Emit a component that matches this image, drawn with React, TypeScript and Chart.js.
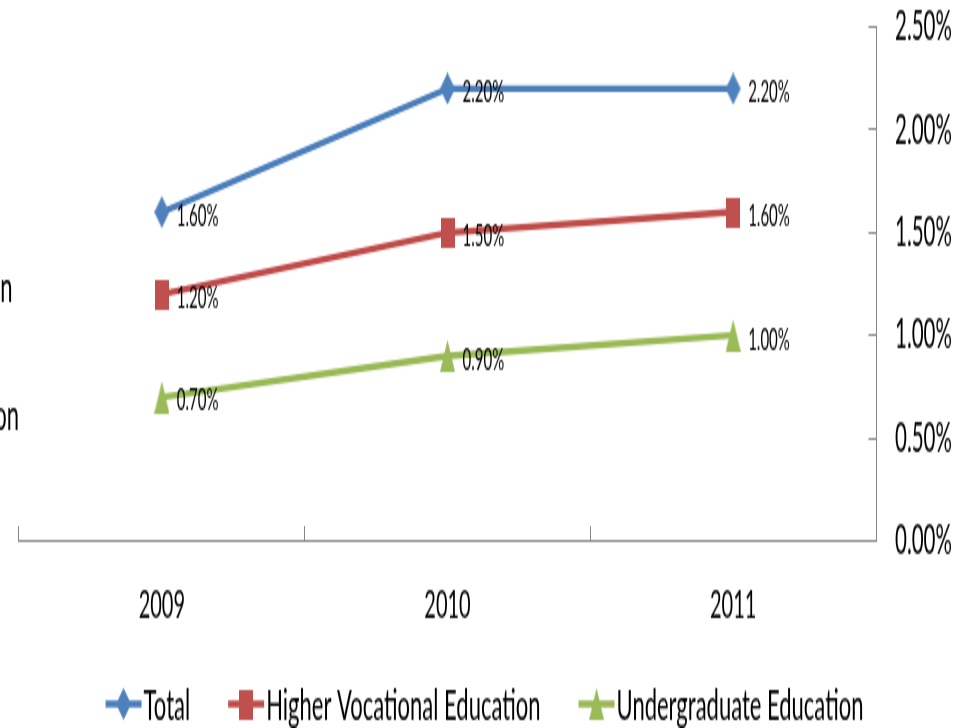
import React, { useEffect, useRef } from 'react';
import { Chart, registerables } from 'chart.js';

Chart.register(...registerables);

// ---- data ----
const categories = ['2009', '2010', '2011'];
const totalValues = [0.016, 0.022, 0.022];
const higherVocationalValues = [0.012, 0.015, 0.016];
const undergraduateValues = [0.007, 0.009, 0.01];
const yTickValues = [0, 0.005, 0.01, 0.015, 0.02, 0.025];
const seriesNames = ['Total', 'Higher Vocational Education', 'Undergraduate Education'];
const clippedLeftLabels = ['Higher Vocational Education', 'Undergraduate Education'];

// ---- canvas geometry (drawn at half height, stretched 2x vertically by CSS) ----
const W = 959;
const H = 364;
const FONT = 'Lato, "Open Sans", sans-serif';

const pct = (v: number) => (v * 100).toFixed(2) + '%';

function makeMarker(shape: string, color: string, w: number, h: number) {
  const c = document.createElement('canvas');
  c.width = w;
  c.height = h;
  const g = c.getContext('2d') as CanvasRenderingContext2D;
  g.fillStyle = color;
  g.beginPath();
  if (shape === 'diamond') {
    g.moveTo(w / 2, 0);
    g.lineTo(w, h / 2);
    g.lineTo(w / 2, h);
    g.lineTo(0, h / 2);
  } else if (shape === 'square') {
    g.rect(0, 0, w, h);
  } else {
    g.moveTo(w / 2, 0);
    g.lineTo(w, h);
    g.lineTo(0, h);
  }
  g.closePath();
  g.fill();
  return c;
}

const dataLabelPlugin = {
  id: 'dataLabels',
  afterDatasetsDraw(chart: any) {
    const ctx = chart.ctx as CanvasRenderingContext2D;
    ctx.save();
    ctx.font = `15px ${FONT}`;
    ctx.fillStyle = '#000';
    ctx.textAlign = 'left';
    ctx.textBaseline = 'middle';
    chart.data.datasets.forEach((ds: any, i: number) => {
      const meta = chart.getDatasetMeta(i);
      meta.data.forEach((pt: any, j: number) => {
        ctx.fillText(pct(ds.data[j]), pt.x + 15, pt.y + 2);
      });
    });
    ctx.restore();
  },
};

const sideTextPlugin = {
  id: 'sideText',
  afterDraw(chart: any) {
    const ctx = chart.ctx as CanvasRenderingContext2D;
    ctx.save();
    ctx.font = `22px ${FONT}`;
    ctx.fillStyle = '#000';
    ctx.textAlign = 'right';
    ctx.textBaseline = 'alphabetic';
    ctx.fillText(clippedLeftLabels[0], 12.5, 151);
    ctx.fillText(clippedLeftLabels[1], 19, 215);
    ctx.restore();
  },
};

const legendPlugin = {
  id: 'customLegend',
  afterDraw(chart: any) {
    const ctx = chart.ctx as CanvasRenderingContext2D;
    ctx.save();
    ctx.font = `22px ${FONT}`;
    const lineLen = 36;
    const gapText = 2;
    const gapItem = 38;
    const items = chart.data.datasets.map((ds: any) => ({ ds, w: ctx.measureText(ds.label).width }));
    const total =
      items.reduce((s: number, it: any) => s + lineLen + gapText + it.w, 0) + gapItem * (items.length - 1);
    let x = 484.5 - total / 2;
    const y = 352;
    items.forEach((it: any) => {
      ctx.strokeStyle = it.ds.borderColor;
      ctx.lineWidth = 3.3;
      ctx.beginPath();
      ctx.moveTo(x, y);
      ctx.lineTo(x + lineLen, y);
      ctx.stroke();
      const img = it.ds.pointStyle as HTMLCanvasElement;
      ctx.drawImage(img, x + lineLen / 2 - img.width / 2, y - img.height / 2);
      ctx.fillStyle = '#000';
      ctx.textAlign = 'left';
      ctx.textBaseline = 'alphabetic';
      ctx.fillText(it.ds.label, x + lineLen + gapText, 360);
      x += lineLen + gapText + it.w + gapItem;
    });
    ctx.restore();
  },
};

export default function App() {
  const ref = useRef<HTMLCanvasElement | null>(null);

  useEffect(() => {
    if (!ref.current) return;
    const blueMarker = makeMarker('diamond', '#4F81BD', 15, 16);
    const redMarker = makeMarker('square', '#C0504D', 14, 15);
    const greenMarker = makeMarker('triangle', '#9BBB59', 15, 16);

    const axisColor = '#868686';

    const chart = new Chart(ref.current, {
      type: 'line',
      data: {
        labels: categories,
        datasets: [
          {
            label: seriesNames[0],
            data: totalValues,
            borderColor: '#4A7EBB',
            backgroundColor: '#4F81BD',
            borderWidth: 3.3,
            pointStyle: blueMarker as any,
            tension: 0,
          },
          {
            label: seriesNames[1],
            data: higherVocationalValues,
            borderColor: '#BE4B48',
            backgroundColor: '#C0504D',
            borderWidth: 3.3,
            pointStyle: redMarker as any,
            tension: 0,
          },
          {
            label: seriesNames[2],
            data: undergraduateValues,
            borderColor: '#98B954',
            backgroundColor: '#9BBB59',
            borderWidth: 3.3,
            pointStyle: greenMarker as any,
            tension: 0,
          },
        ],
      },
      options: {
        responsive: false,
        maintainAspectRatio: false,
        animation: false,
        devicePixelRatio: 1,
        layout: { padding: { left: 19, right: 0, top: 13.5, bottom: 48.5 } },
        plugins: {
          legend: { display: false },
          tooltip: { enabled: false },
        },
        scales: {
          x: {
            type: 'category',
            offset: true,
            grid: {
              offset: true,
              drawOnChartArea: false,
              drawTicks: true,
              tickLength: -7.5,
              color: axisColor,
              lineWidth: 1,
            },
            border: { display: true, color: axisColor, width: 1 },
            ticks: {
              font: { family: FONT, size: 20 },
              color: '#000',
              padding: 28,
              maxRotation: 0,
              autoSkip: false,
            },
            afterFit: (s: any) => {
              s.height = 45;
              s.paddingLeft = 0;
              s.paddingRight = 0;
            },
          },
          y: {
            position: 'right',
            min: 0,
            max: 0.025,
            afterBuildTicks: (s: any) => {
              s.ticks = yTickValues.map((v) => ({ value: v }));
            },
            grid: {
              drawOnChartArea: false,
              drawTicks: true,
              tickLength: -7.5,
              color: axisColor,
              lineWidth: 1,
            },
            border: { display: true, color: axisColor, width: 1 },
            ticks: {
              font: { family: FONT, size: 20.5 },
              color: '#000',
              padding: 26.5,
              callback: (v: any) => pct(Number(v)),
            },
            afterFit: (s: any) => {
              s.width = 83;
              s.paddingTop = 0;
              s.paddingBottom = 0;
            },
          },
        },
      },
      plugins: [dataLabelPlugin, sideTextPlugin, legendPlugin],
    });

    return () => chart.destroy();
  }, []);

  return (
    <div style={{ position: 'absolute', left: 0, top: 0, width: W, height: 728, background: '#fff' }}>
      <canvas ref={ref} width={W} height={H} style={{ width: `${W}px`, height: '728px', display: 'block' }} />
    </div>
  );
}
